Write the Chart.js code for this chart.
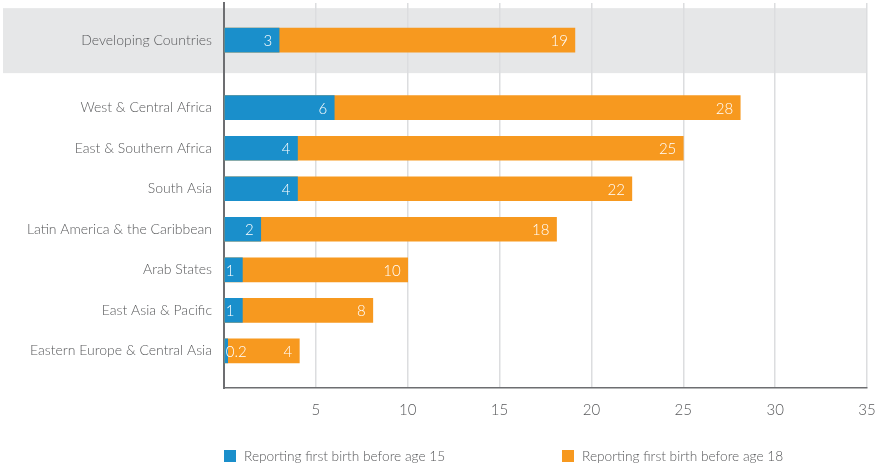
<!DOCTYPE html>
<html>
<head>
<meta charset="utf-8">
<script src="https://cdn.jsdelivr.net/npm/chart.js@4.4.1/dist/chart.umd.min.js"></script>
<style>
  html, body { margin: 0; padding: 0; background: #fff; }
  #wrap { position: relative; width: 880px; height: 467px; }
  .legend { position: absolute; top: 447px; font: 300 13.7px Lato, sans-serif; color: #58595b; display: flex; align-items: center; }
  .legend span.box { width: 12px; height: 12px; margin-right: 8px; display: inline-block; }
</style>
</head>
<body>
<div id="wrap">
  <canvas id="birthChart"></canvas>
  <div class="legend" style="left:224px"><span class="box" style="background:#1a8fcb"></span>Reporting first birth before age 15</div>
  <div class="legend" style="left:562px"><span class="box" style="background:#f7991f"></span>Reporting first birth before age 18</div>
</div>
<script>
const categories = [
  'Developing Countries',
  'West & Central Africa',
  'East & Southern Africa',
  'South Asia',
  'Latin America & the Caribbean',
  'Arab States',
  'East Asia & Pacific',
  'Eastern Europe & Central Asia'
];
const before15 = [3, 6, 4, 4, 2, 1, 1, 0.2];
const before18 = [19.1, 28.1, 25, 22.2, 18.1, 10, 8.1, 4.1];
const xTicks = [0, 5, 10, 15, 20, 25, 30, 35];

const blue = '#1a8fcb';
const orange = '#f7991f';
const textGray = '#58595b';

// the y axis is split in thin slots so the gap under "Developing Countries" can be wider
const SLOTS = 57;
function slotOf(i) { return i === 0 ? 5 : 15 + (i - 1) * 6; }
const slotLabels = new Array(SLOTS).fill('');
categories.forEach((c, i) => { slotLabels[slotOf(i)] = c; });
function spread(values) {
  const out = new Array(SLOTS).fill(null);
  values.forEach((v, i) => { out[slotOf(i)] = v; });
  return out;
}

const bandPlugin = {
  id: 'band',
  beforeDraw(chart) {
    const { ctx, chartArea, scales } = chart;
    const yc = scales.y.getPixelForValue(slotOf(0));
    ctx.save();
    ctx.fillStyle = '#e6e7e8';
    ctx.fillRect(3, yc - 32, chartArea.right - 3, 65);
    ctx.restore();
  }
};

const valueLabels = {
  id: 'valueLabels',
  afterDatasetsDraw(chart) {
    const ctx = chart.ctx;
    ctx.save();
    ctx.font = '300 15px Lato, sans-serif';
    ctx.fillStyle = '#fff';
    ctx.textBaseline = 'middle';
    chart.data.datasets.forEach((ds, di) => {
      chart.getDatasetMeta(di).data.forEach((el, idx) => {
        const v = ds.data[idx];
        if (v === null) return;
        const txt = di === 0 ? String(v) : String(Math.round(v));
        const w = ctx.measureText(txt).width;
        if (w + 10 < el.x - el.base) {
          ctx.textAlign = 'right';
          ctx.fillText(txt, el.x - 7, el.y + 1);
        } else {
          ctx.textAlign = 'left';
          ctx.fillText(txt, el.base + 1, el.y + 1);
        }
      });
    });
    ctx.restore();
  }
};

const birthChart = new Chart(document.getElementById('birthChart'), {
  type: 'bar',
  data: {
    labels: slotLabels,
    datasets: [
      { label: 'Reporting first birth before age 15', data: spread(before15), backgroundColor: blue, grouped: false, barThickness: 24 },
      { label: 'Reporting first birth before age 18', data: spread(before18), backgroundColor: orange, grouped: false, barThickness: 24 }
    ]
  },
  options: {
    indexAxis: 'y',
    responsive: true,
    maintainAspectRatio: false,
    animation: false,
    layout: { padding: { top: 3, right: 13, left: 0, bottom: 0 } },
    scales: {
      x: {
        min: xTicks[0],
        max: xTicks[xTicks.length - 1],
        afterBuildTicks: (scale) => { scale.ticks = xTicks.map(v => ({ value: v })); },
        afterFit: (scale) => { scale.height = 79; scale.paddingLeft = 0; scale.paddingRight = 0; },
        grid: { color: '#dcdddf', lineWidth: 1.5, drawTicks: false },
        border: { color: '#6d6e71', width: 1.5 },
        ticks: {
          padding: 13,
          color: textGray,
          font: { family: 'Lato', size: 15, weight: '300' },
          callback: (v) => v === 0 ? '' : v
        }
      },
      y: {
        afterFit: (scale) => { scale.width = 224; scale.paddingTop = 0; scale.paddingBottom = 0; },
        grid: { display: false, drawTicks: false },
        border: { color: '#6d6e71', width: 2 },
        ticks: {
          autoSkip: false,
          padding: 12,
          color: textGray,
          font: { family: 'Lato', size: 14, weight: '300' }
        }
      }
    },
    plugins: {
      legend: { display: false },
      tooltip: { enabled: false }
    }
  },
  plugins: [bandPlugin, valueLabels]
});
</script>
</body>
</html>
